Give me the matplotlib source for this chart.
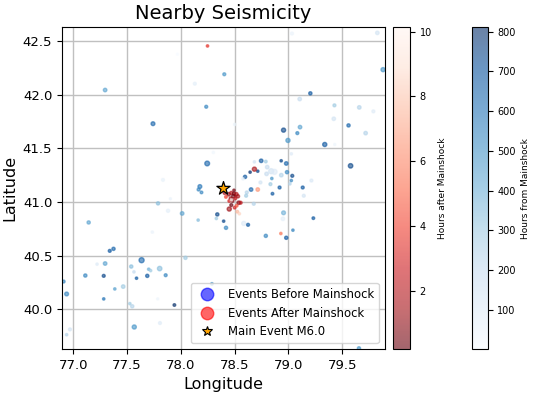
import numpy as np
import matplotlib
matplotlib.use("Agg")
import matplotlib.pyplot as plt
from matplotlib.lines import Line2D

# mainshock
main_lon = 78.395
main_lat = 41.13
main_mag = 6.0

# events before the mainshock
before_lon = [77.968, 78.404, 78.130, 77.296, 79.033, 79.827, 79.880, 79.204, 79.105, 78.236,
              79.428, 79.659, 79.790, 77.741, 78.501, 79.422, 78.955, 79.108, 79.083, 79.559,
              79.718, 78.996, 79.338, 79.431, 78.302, 78.245, 78.747, 79.027, 78.933, 78.980,
              79.578, 78.684, 78.790, 78.803, 78.840, 78.871, 78.797, 78.644, 78.715, 78.597,
              78.934, 78.987, 79.036, 78.846, 78.578, 78.740, 78.833, 78.918, 79.014, 79.027,
              79.214, 79.133, 77.834, 78.177, 78.165, 78.653,
              78.192, 78.613, 78.607, 78.852, 79.143, 77.788, 77.903, 77.881, 78.012, 78.678,
              78.339, 78.330, 78.398, 78.161, 78.420, 78.585, 78.625, 78.955, 78.949, 79.232,
              78.790, 78.980, 79.042, 77.143, 77.735, 77.339, 77.374, 77.635, 78.043, 77.296,
              77.221, 77.539, 77.564, 77.701, 77.719, 77.803, 77.859, 77.688, 77.588, 77.112,
              77.283, 76.910, 77.464, 77.386, 76.938, 77.283, 77.785, 77.526, 77.548, 77.940,
              78.289, 77.567, 77.806, 76.969, 76.938, 79.656]
before_lat = [42.379, 42.192, 42.104, 42.045, 42.572, 42.578, 42.235, 42.014, 41.961, 41.889,
              41.902, 41.883, 41.846, 41.731, 41.724, 41.777, 41.671, 41.699, 41.643, 41.715,
              41.643, 41.575, 41.537, 41.537, 41.463, 41.360, 41.385, 41.450, 41.385, 41.360,
              41.338, 41.375, 41.378, 41.326, 41.288, 41.282, 41.263, 41.279, 41.288, 41.235,
              41.251, 41.279, 41.245, 41.220, 41.217, 41.183, 41.167, 41.136, 41.170, 41.201,
              41.201, 41.136, 41.207, 41.145, 41.117, 41.117,
              41.090, 41.090, 41.059, 41.078, 41.059, 40.988, 41.031, 40.919, 40.894, 40.984,
              40.885, 40.847, 40.822, 40.832, 40.760, 40.801, 40.788, 40.900, 40.844, 40.850,
              40.685, 40.667, 40.738, 40.810, 40.720, 40.545, 40.564, 40.458, 40.480, 40.427,
              40.421, 40.399, 40.349, 40.374, 40.361, 40.380, 40.318, 40.312, 40.290, 40.315,
              40.312, 40.259, 40.212, 40.190, 40.143, 40.097, 40.097, 40.053, 40.028, 40.040,
              40.237, 39.835, 39.872, 39.813, 39.763, 39.636]
before_mag = [2.5, 2.8, 2.8, 3.0, 2.8, 3.0, 3.2, 2.9, 3.0, 2.8,
              2.8, 3.0, 2.8, 3.1, 2.6, 3.0, 3.2, 3.0, 2.8, 2.9,
              3.0, 3.2, 3.2, 2.5, 2.6, 3.4, 3.0, 2.6, 2.6, 3.0,
              3.3, 2.6, 2.7, 3.0, 3.5, 3.5, 3.0, 2.6, 2.6, 2.9,
              3.0, 2.9, 2.8, 2.6, 2.6, 2.8, 2.8, 2.8, 2.6, 2.6,
              2.8, 2.8, 2.8, 3.1, 2.8, 3.0,
              2.7, 2.8, 2.8, 2.7, 2.8, 2.9, 2.5, 2.9, 3.0, 2.8,
              2.9, 2.6, 2.6, 2.6, 2.9, 3.2, 2.8, 3.1, 3.0, 2.7,
              2.9, 2.9, 2.6, 2.9, 2.6, 2.8, 2.9, 3.5, 2.9, 3.0,
              2.6, 2.9, 2.6, 2.6, 2.6, 3.3, 2.8, 2.9, 2.6, 2.9,
              2.8, 2.8, 3.0, 2.6, 3.1, 2.6, 2.5, 2.6, 2.9, 2.7,
              2.7, 3.2, 2.8, 2.8, 2.6, 2.9]
before_hours = [2, 500, 80, 450, 50, 150, 500, 700, 200, 550,
                300, 250, 100, 650, 60, 150, 750, 450, 550, 650,
                250, 500, 700, 40, 30, 650, 700, 100, 750, 650,
                750, 150, 300, 200, 150, 100, 200, 800, 750, 700,
                250, 550, 750, 500, 80, 150, 300, 700, 250, 550,
                120, 700, 60, 600, 550, 650,
                550, 250, 300, 700, 150, 350, 50, 80, 450, 250,
                750, 300, 750, 350, 550, 100, 700, 400, 80, 700,
                550, 700, 550, 450, 50, 700, 650, 650, 300, 450,
                100, 350, 200, 400, 300, 350, 550, 700, 700, 550,
                750, 550, 300, 450, 550, 600, 40, 300, 250, 811,
                500, 500, 100, 150, 250, 500]

# events after the mainshock
after_lon = [78.248, 78.684, 78.715, 78.930, 78.444, 78.469, 78.494, 78.516, 78.488, 78.463,
             78.506, 78.531, 78.538, 78.556, 78.450, 78.469, 78.450, 78.500, 78.525, 78.544,
             78.419, 78.407, 78.481, 78.519, 78.494, 78.470]
after_lat = [42.456, 41.307, 41.117, 40.707, 41.073, 41.085, 41.079, 41.073, 41.054, 41.035,
             41.035, 41.054, 40.994, 40.994, 41.010, 40.972, 40.935, 40.948, 40.910, 40.891,
             41.048, 41.085, 41.010, 40.966, 41.110, 41.020]
after_mag = [2.6, 3.2, 3.0, 2.6, 3.0, 2.9, 2.9, 3.0, 3.0, 2.8,
             2.8, 2.9, 3.0, 2.8, 2.7, 2.8, 3.2, 2.7, 2.7, 2.6,
             2.7, 2.8, 2.7, 2.7, 2.6, 2.5]
after_hours = [3.5, 1.5, 6.5, 5.5, 1.0, 2.0, 0.6, 1.8, 0.3, 1.2,
               2.5, 1.5, 0.8, 2.2, 3.0, 0.2, 1.3, 2.8, 7.5, 8.5,
               4.0, 1.6, 0.9, 4.5, 0.5, 10.13]


def msize(m):
    return 5.5 * (np.array(m) - 2) ** 2 + 1


fig = plt.figure(figsize=(5.33, 3.95), dpi=100)
ax = fig.add_axes([0.1163, 0.1165, 0.6054, 0.8144])

sc_b = ax.scatter(before_lon, before_lat, c=before_hours, cmap='Blues', alpha=0.6,
                  s=msize(before_mag), zorder=2)
sc_a = ax.scatter(after_lon, after_lat, c=after_hours, cmap='Reds_r', alpha=0.6,
                  s=msize(after_mag), zorder=3)
ax.scatter([main_lon], [main_lat], marker='*', s=100, c='orange', edgecolors='black',
           linewidths=0.9, zorder=4)

ax.set_xlim(main_lon - 1.5, main_lon + 1.5)
ax.set_ylim(main_lat - 1.5, main_lat + 1.5)
ax.set_xticks([77.0, 77.5, 78.0, 78.5, 79.0, 79.5])
ax.set_yticks([40.0, 40.5, 41.0, 41.5, 42.0, 42.5])
ax.tick_params(labelsize=9.5)
ax.grid(True, color='#c0c0c0', linewidth=1.0, zorder=0)
ax.set_axisbelow(True)
ax.set_xlabel('Longitude', fontsize=11.5)
ax.set_ylabel('Latitude', fontsize=11.5)
ax.set_title('Nearby Seismicity', fontsize=14)

handles = [
    Line2D([], [], marker='o', linestyle='', markersize=9, color='blue', alpha=0.6),
    Line2D([], [], marker='o', linestyle='', markersize=9, color='red', alpha=0.6),
    Line2D([], [], marker='*', linestyle='', markersize=7.5, markerfacecolor='orange',
           markeredgecolor='black', markeredgewidth=0.8),
]
labels = ['Events Before Mainshock', 'Events After Mainshock', 'Main Event M%.1f' % main_mag]
ax.legend(handles, labels, loc='lower right', fontsize=8.4)

cax1 = fig.add_axes([0.7379, 0.1165, 0.0313, 0.8144])
cb1 = fig.colorbar(sc_a, cax=cax1)
cb1.set_ticks([2, 4, 6, 8, 10])
cb1.ax.tick_params(labelsize=7)
cb1.set_label('Hours after Mainshock', fontsize=6.5)

cax2 = fig.add_axes([0.885, 0.1165, 0.030, 0.8144])
cb2 = fig.colorbar(sc_b, cax=cax2)
cb2.set_ticks([100, 200, 300, 400, 500, 600, 700, 800])
cb2.ax.tick_params(labelsize=7)
cb2.set_label('Hours from Mainshock', fontsize=6.5)

fig.savefig('out.png', dpi=100)
